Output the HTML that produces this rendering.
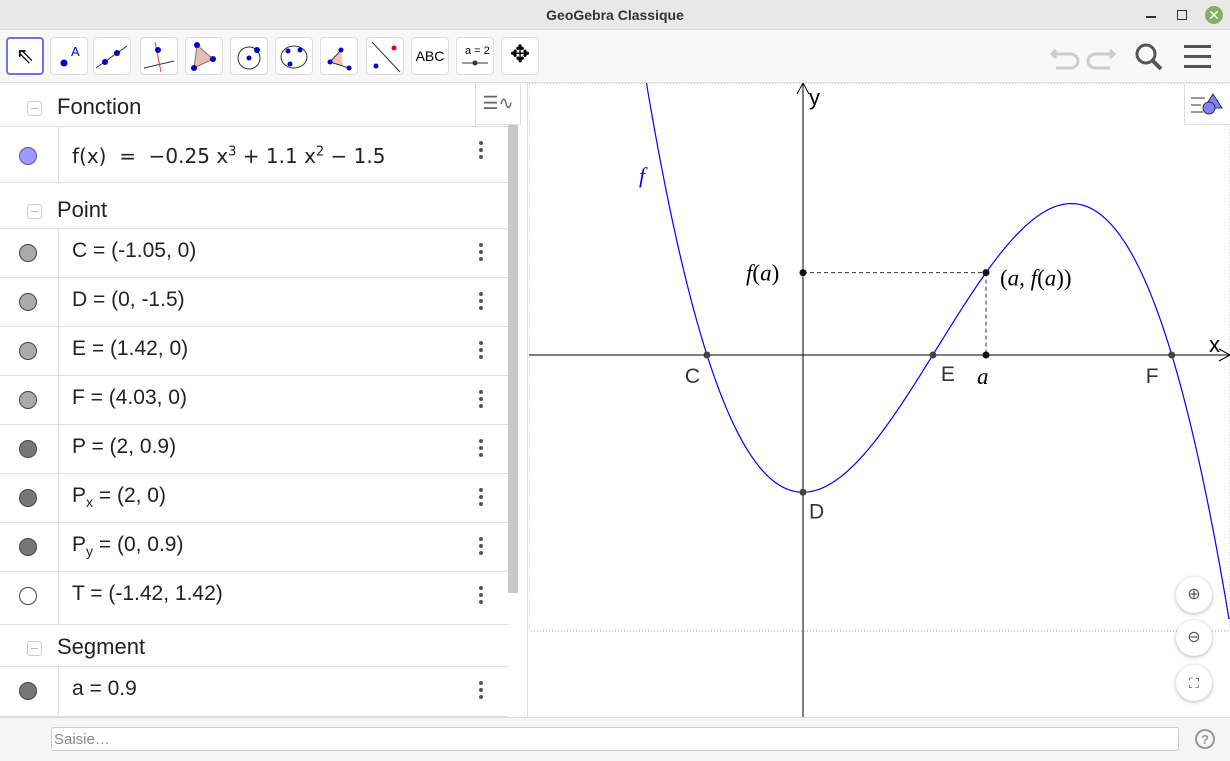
<!DOCTYPE html>
<html><head><meta charset="utf-8"><style>
body{margin:0;width:1230px;height:761px;overflow:hidden;background:#fff;font-family:"Liberation Sans",sans-serif;position:relative}
div{box-sizing:border-box}
.abs{position:absolute}
.tool{position:absolute;top:37px;width:38px;height:38px;border:1px solid #ddd;border-radius:4px;background:#fff}
.row{position:absolute;left:0;width:508px;height:49px;border-bottom:1px solid #ddd;font-size:21px;color:#222}
.row .dot{position:absolute;left:19px;top:15px;width:18px;height:18px;border-radius:50%;border:1px solid #444;background:#aaa}
.row .vl{position:absolute;left:58px;top:0;width:1px;height:48px;background:#ddd}
.row .txt{position:absolute;left:72px;top:10px}
.row .menu{position:absolute;left:479px;top:14px;width:4px;font-size:0}
.menu i{display:block;width:4px;height:4px;border-radius:50%;background:#555;margin-bottom:3px}
.hdr{position:absolute;left:0;width:508px;font-size:22px;color:#222}
.hdr .mn{position:absolute;left:27px;width:15px;height:15px;border:1px solid #ccc;border-radius:3px}
.hdr .mn:after{content:"";position:absolute;left:3px;top:6px;width:7px;height:1px;background:#bbb}
.hdr span{position:absolute;left:57px}
</style></head><body>
<div class="abs" style="left:0;top:0;width:1230px;height:30px;background:#e8e8e8;border-bottom:1px solid #ddd;text-align:center;font-size:14px;font-weight:bold;color:#333;line-height:30px">GeoGebra Classique</div>
<div class="abs" style="left:1146px;top:16px;width:10px;height:2px;background:#333"></div>
<div class="abs" style="left:1177px;top:10px;width:10px;height:10px;border:1.5px solid #333"></div>
<div class="abs" style="left:1205px;top:6px;width:18px;height:18px;border-radius:50%;background:#8cad61;color:#fff;font-size:14px;text-align:center;line-height:18px">✕</div>
<div class="abs" style="left:0;top:30px;width:1230px;height:53px;background:#f8f8f8;border-bottom:1px solid #ddd"></div>
<div class="tool" style="left:6px;border:2px solid #6f70f0;font-size:22px;text-align:center;line-height:34px">⇖</div>
<div class="tool" style="left:50px"><svg width="36" height="36"><circle cx="13" cy="25" r="3.5" fill="#00c"/><text x="20" y="18" font-size="13" fill="#00c" font-family="Liberation Sans">A</text></svg></div>
<div class="tool" style="left:93px"><svg width="36" height="36"><line x1="2" y1="30" x2="33" y2="8" stroke="#333"/><circle cx="11" cy="24" r="3" fill="#00c"/><circle cx="23" cy="15" r="3" fill="#00c"/></svg></div>
<div class="tool" style="left:140px"><svg width="36" height="36"><line x1="3" y1="30" x2="33" y2="23" stroke="#333"/><line x1="14" y1="4" x2="20" y2="34" stroke="#e33"/><circle cx="17" cy="12" r="3" fill="#00c"/></svg></div>
<div class="tool" style="left:185px"><svg width="36" height="36"><polygon points="11,7 27,21 8,30" fill="#e0c0b0" stroke="#a66"/><circle cx="11" cy="7" r="3" fill="#00c"/><circle cx="27" cy="21" r="3" fill="#00c"/><circle cx="8" cy="30" r="3" fill="#00c"/></svg></div>
<div class="tool" style="left:230px"><svg width="36" height="36"><circle cx="18" cy="20" r="11" fill="none" stroke="#333"/><circle cx="18" cy="20" r="2.5" fill="#00c"/><circle cx="26" cy="12" r="3" fill="#00c"/></svg></div>
<div class="tool" style="left:275px"><svg width="36" height="36"><ellipse cx="18" cy="19" rx="13" ry="11" fill="none" stroke="#333"/><circle cx="12" cy="13" r="2.5" fill="#00c"/><circle cx="24" cy="12" r="2.5" fill="#00c"/><circle cx="14" cy="26" r="2.5" fill="#00c"/></svg></div>
<div class="tool" style="left:320px"><svg width="36" height="36"><polygon points="9,24 20,12 22,28" fill="#f6c0c0"/><line x1="9" y1="24" x2="20" y2="12" stroke="#333"/><line x1="9" y1="24" x2="28" y2="30" stroke="#333"/><circle cx="9" cy="24" r="2.5" fill="#00c"/><circle cx="20" cy="12" r="2.5" fill="#00c"/><circle cx="28" cy="30" r="2.5" fill="#00c"/></svg></div>
<div class="tool" style="left:366px"><svg width="36" height="36"><line x1="5" y1="4" x2="33" y2="34" stroke="#333"/><circle cx="27" cy="10" r="2.5" fill="#e00"/><circle cx="9" cy="28" r="2.5" fill="#00c"/></svg></div>
<div class="tool" style="left:411px;font-size:14px;text-align:center;line-height:36px">ABC</div>
<div class="tool" style="left:456px"><svg width="36" height="36"><text x="8" y="16" font-size="11" font-family="Liberation Sans">a = 2</text><line x1="5" y1="25" x2="31" y2="25" stroke="#333"/><circle cx="18" cy="25" r="2.5" fill="#333"/></svg></div>
<div class="tool" style="left:501px;font-size:24px;text-align:center;line-height:34px">✥</div>
<svg class="abs" style="left:1048px;top:42px" width="200" height="32">
<path d="M8 8 L4 12 L8 16 M4 12 H22 a8 7 0 0 1 0 14 H8" fill="none" stroke="#ccc" stroke-width="3"/>
<path d="M62 8 L66 12 L62 16 M66 12 H48 a8 7 0 0 0 0 14 H62" fill="none" stroke="#ccc" stroke-width="3"/>
<circle cx="98" cy="12" r="9" fill="none" stroke="#555" stroke-width="3"/><line x1="105" y1="19" x2="113" y2="27" stroke="#555" stroke-width="4"/>
<rect x="136" y="3" width="27" height="3" fill="#555"/><rect x="136" y="13" width="27" height="3" fill="#555"/><rect x="136" y="23" width="27" height="3" fill="#555"/></svg>

<div class="abs" style="left:0;top:83px;width:528px;height:634px;background:#fff;border-right:1px solid #ddd"></div>
<div class="abs" style="left:508px;top:123px;width:10px;height:470px;background:#c8c8c8"></div>
<div class="abs" style="left:475px;top:84px;width:46px;height:41px;background:#fff;border:1px solid #ddd;border-top:none;font-size:18px;color:#666;text-align:center;line-height:38px">☰∿</div>
<div class="hdr" style="top:85px;height:42px;border-bottom:1px solid #ddd"><div class="mn" style="top:16px"></div><span style="top:9px">Fonction</span></div>
<div class="row" style="top:127px;height:56px"><div class="dot" style="top:20px;background:#9b9bff;border-color:#55a"></div><div class="vl" style="height:55px"></div><div class="txt" style="top:17px;font-family:'DejaVu Sans',sans-serif;font-size:20px">f(x) &nbsp;= &nbsp;−0.25 x<sup style="font-size:13px">3</sup> + 1.1 x<sup style="font-size:13px">2</sup> − 1.5</div><div class="menu"><i></i><i></i><i></i></div></div>
<div class="hdr" style="top:188px;height:41px;border-bottom:1px solid #ddd"><div class="mn" style="top:16px"></div><span style="top:9px">Point</span></div>
<div class="row" style="top:229px"><div class="dot"></div><div class="vl"></div><div class="txt">C = (-1.05, 0)</div><div class="menu"><i></i><i></i><i></i></div></div>
<div class="row" style="top:278px"><div class="dot"></div><div class="vl"></div><div class="txt">D = (0, -1.5)</div><div class="menu"><i></i><i></i><i></i></div></div>
<div class="row" style="top:327px"><div class="dot"></div><div class="vl"></div><div class="txt">E = (1.42, 0)</div><div class="menu"><i></i><i></i><i></i></div></div>
<div class="row" style="top:376px"><div class="dot"></div><div class="vl"></div><div class="txt">F = (4.03, 0)</div><div class="menu"><i></i><i></i><i></i></div></div>
<div class="row" style="top:425px"><div class="dot" style="background:#777"></div><div class="vl"></div><div class="txt">P = (2, 0.9)</div><div class="menu"><i></i><i></i><i></i></div></div>
<div class="row" style="top:474px"><div class="dot" style="background:#777"></div><div class="vl"></div><div class="txt">P<sub style="font-size:14px">x</sub> = (2, 0)</div><div class="menu"><i></i><i></i><i></i></div></div>
<div class="row" style="top:523px"><div class="dot" style="background:#777"></div><div class="vl"></div><div class="txt">P<sub style="font-size:14px">y</sub> = (0, 0.9)</div><div class="menu"><i></i><i></i><i></i></div></div>
<div class="row" style="top:572px;height:53px"><div class="dot" style="background:#fff"></div><div class="vl" style="height:52px"></div><div class="txt">T = (-1.42, 1.42)</div><div class="menu"><i></i><i></i><i></i></div></div>
<div class="hdr" style="top:625px;height:42px;border-bottom:1px solid #ddd"><div class="mn" style="top:16px"></div><span style="top:9px">Segment</span></div>
<div class="row" style="top:667px;height:50px"><div class="dot" style="background:#777"></div><div class="vl"></div><div class="txt">a = 0.9</div><div class="menu"><i></i><i></i><i></i></div></div>

<svg class="abs" id="g" style="left:529px;top:83px" width="701" height="634"></svg>
<div class="abs" style="left:1184px;top:84px;width:46px;height:41px;background:#fff;border:1px solid #ddd;border-top:none;border-right:none"><svg width="44" height="40"><rect x="6" y="13" width="14" height="2" fill="#999"/><rect x="6" y="20" width="10" height="2" fill="#999"/><rect x="6" y="27" width="12" height="2" fill="#999"/><polygon points="28,10 37,24 19,24" fill="#8080ff" stroke="#333"/><circle cx="24" cy="24" r="6" fill="#8080ff" stroke="#333"/></svg></div>
<div class="abs" style="left:1176px;top:577px;width:36px;height:36px;border-radius:50%;background:#fff;box-shadow:0 1px 4px rgba(0,0,0,.3);text-align:center;line-height:36px;font-size:16px;color:#555">⊕</div>
<div class="abs" style="left:1176px;top:620px;width:36px;height:36px;border-radius:50%;background:#fff;box-shadow:0 1px 4px rgba(0,0,0,.3);text-align:center;line-height:36px;font-size:16px;color:#555">⊖</div>
<div class="abs" style="left:1176px;top:665px;width:36px;height:36px;border-radius:50%;background:#fff;box-shadow:0 1px 4px rgba(0,0,0,.3);text-align:center;line-height:36px;font-size:14px;color:#555">⛶</div>

<div class="abs" style="left:0;top:717px;width:1230px;height:44px;background:#f5f5f5;border-top:1px solid #ddd"></div>
<div class="abs" style="left:51px;top:727px;width:1128px;height:24px;background:#fff;border:1px solid #ccc;border-radius:3px;font-size:15px;color:#888;padding:3px 2px">Saisie…</div>
<div class="abs" style="left:1195px;top:729px;width:20px;height:20px;border-radius:50%;border:2px solid #999;color:#999;font-size:13px;font-weight:bold;text-align:center;line-height:17px">?</div>

<script>
const coef=[-0.25,1.1,0,-1.5];
const pointNames=["C","D","E","F"];
const pointX=[-1.05,0,1.42,4.03];
const pointY=[0,-1.5,0,0];
const aVal=[2];
const faVal=[0.9];
const svg=document.getElementById('g');
const NS='http://www.w3.org/2000/svg';
const ox=274,oy=272,sc=91.5;
const X=v=>ox+v*sc, Y=v=>oy-v*sc;
const f=x=>coef[0]*x*x*x+coef[1]*x*x+coef[2]*x+coef[3];
function el(t,a){const e=document.createElementNS(NS,t);for(const k in a)e.setAttribute(k,a[k]);svg.appendChild(e);return e;}
let e;
e=el('rect',{x:0,y:0,width:701,height:548,fill:'none',stroke:'#aaa','stroke-dasharray':'1,2'});


e=el('line',{x1:0,y1:oy,x2:701,y2:oy,stroke:'#000'});


e=el('path',{d:`M${690},${oy-6} L701,${oy} L690,${oy+6}`,fill:'none',stroke:'#000'});


e=el('line',{x1:ox,y1:0,x2:ox,y2:634,stroke:'#000'});


e=el('path',{d:`M${ox-6},11 L${ox},0 L${ox+6},11`,fill:'none',stroke:'#000'});


e=el('text',{x:ox+6,y:22,'font-size':22,'font-family':'Liberation Sans'});e.textContent='y';


e=el('text',{x:680,y:269,'font-size':22,'font-family':'Liberation Sans'});e.textContent='x';


let d='';
for(let px=0;px<=701;px+=2){const x=(px-ox)/sc;d+=(px?'L':'M')+px+','+Y(f(x)).toFixed(2);}
e=el('path',{d:d,fill:'none',stroke:'#00f','stroke-width':1.2});


e=el('text',{x:110,y:100,'font-size':22,'font-style':'italic','font-family':'Liberation Serif',fill:'#00f'});e.textContent='f';


const a=aVal[0],fa=faVal[0];
e=el('line',{x1:ox,y1:Y(fa),x2:X(a),y2:Y(fa),stroke:'#333','stroke-dasharray':'4,3'});


e=el('line',{x1:X(a),y1:Y(fa),x2:X(a),y2:oy,stroke:'#333','stroke-dasharray':'4,3'});


const labOff={C:[-22,28],D:[6,26],E:[8,26],F:[-26,28]};
pointNames.forEach((n,i)=>{
  const c=el('circle',{cx:X(pointX[i]),cy:Y(pointY[i]),r:3.5,fill:'#444'});
  
  
  const t=el('text',{x:X(pointX[i])+labOff[n][0],y:Y(pointY[i])+labOff[n][1],'font-size':21,'font-family':'Liberation Sans',fill:'#333'});t.textContent=n;
  
  
});
[[X(a),Y(fa),'point-p'],[X(a),oy,'point-px'],[ox,Y(fa),'point-py']].forEach(p=>{
  const c=el('circle',{cx:p[0],cy:p[1],r:3.5,fill:'#111'});
  
  
});
e=el('text',{x:X(a)+14,y:Y(fa)+13,'font-size':23,'font-family':'Liberation Serif'});e.innerHTML='(<tspan font-style="italic">a</tspan>, <tspan font-style="italic">f</tspan>(<tspan font-style="italic">a</tspan>))';


e=el('text',{x:ox-57,y:Y(fa)+8,'font-size':23,'font-family':'Liberation Serif'});e.innerHTML='<tspan font-style="italic">f</tspan>(<tspan font-style="italic">a</tspan>)';


e=el('text',{x:X(a)-9,y:oy+29,'font-size':23,'font-style':'italic','font-family':'Liberation Serif'});e.textContent='a';


</script>
</body></html>
